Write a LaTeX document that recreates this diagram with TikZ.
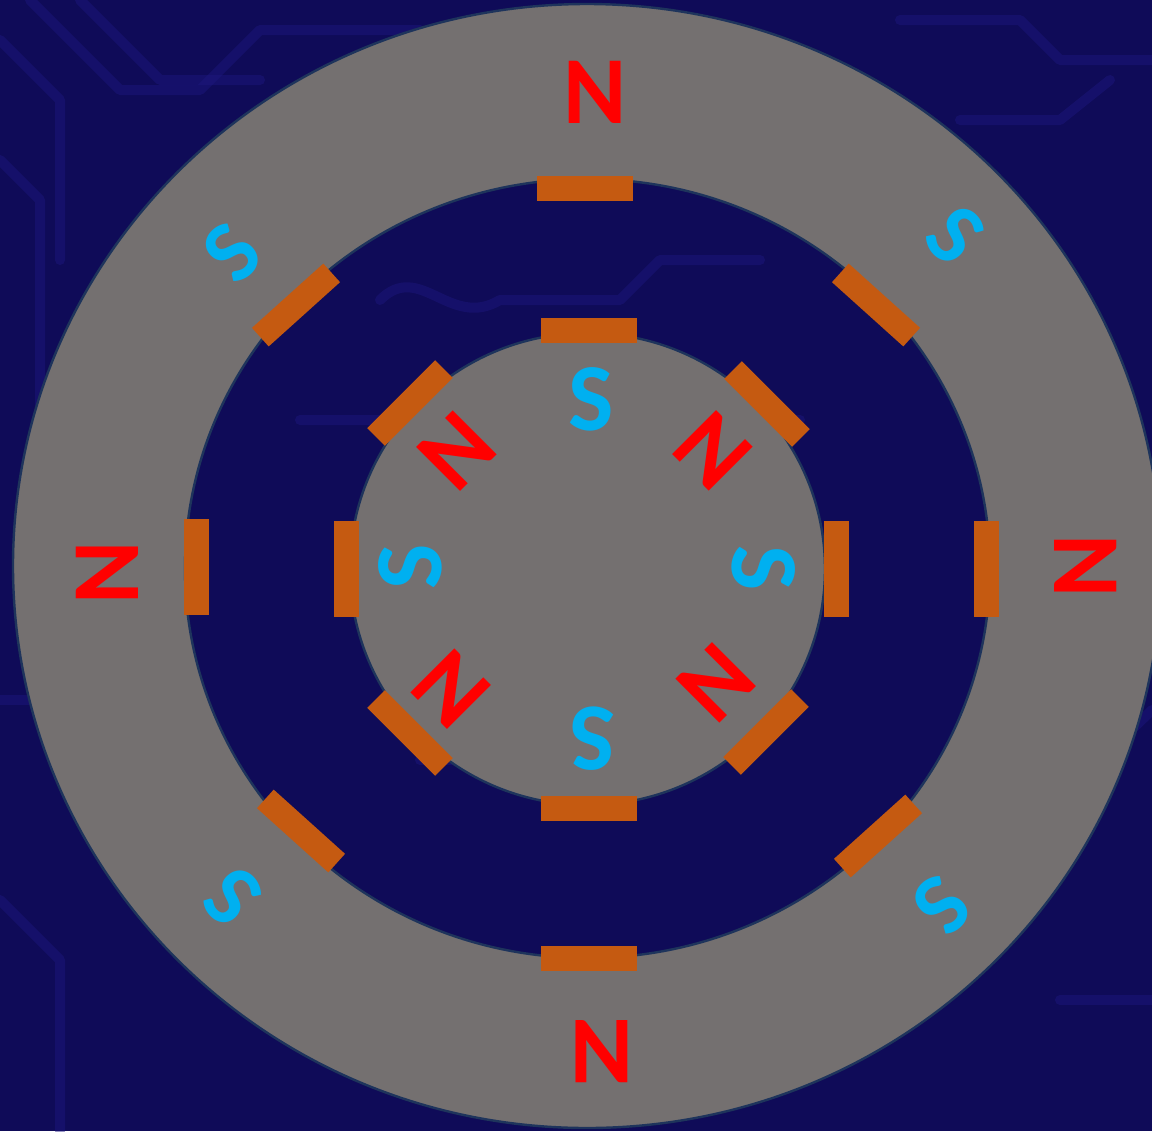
\documentclass[tikz,border=0pt]{standalone}
\usepackage{fontspec}
\setmainfont{Carlito}
\definecolor{bgblue}{RGB}{15,11,88}
\definecolor{trace}{RGB}{30,24,128}
\definecolor{ringgray}{RGB}{116,112,112}
\definecolor{edgeblue}{RGB}{30,52,92}
\definecolor{barorange}{RGB}{197,90,17}
\definecolor{nred}{RGB}{255,0,0}
\definecolor{scyan}{RGB}{0,176,240}
\tikzset{
  magbar/.style={rectangle, fill=barorange, minimum width=48pt, minimum height=12.5pt, inner sep=0pt},
  nlab/.style={text=nred, font=\fontsize{48}{48}\selectfont\bfseries, inner sep=0pt},
  slab/.style={text=scyan, font=\fontsize{48}{48}\selectfont\bfseries, inner sep=0pt},
  sslab/.style={text=scyan, font=\fontsize{44}{44}\selectfont\bfseries, inner sep=0pt},
  pcb/.style={draw=trace, line width=5pt, opacity=0.45, line join=round, line cap=round},
  rim/.style={draw=edgeblue, line width=1.2pt}
}
\begin{document}
\begin{tikzpicture}[x=0.5pt,y=-0.5pt]
\useasboundingbox (0,0) rectangle (1152,1131);
\begin{scope}
\clip (0,0) rectangle (1152,1131);
\fill[bgblue] (0,0) rectangle (1152,1131);
% faint circuit traces
\draw[pcb] (0,40) -- (60,100) -- (60,260);
\draw[pcb] (30,0) -- (120,90) -- (200,90) -- (260,30) -- (420,30);
\draw[pcb] (80,0) -- (160,80) -- (260,80);
\draw[pcb] (0,160) -- (40,200) -- (40,420);
\draw[pcb] (900,20) -- (1020,20) -- (1060,60) -- (1152,60);
\draw[pcb] (960,120) -- (1060,120) -- (1110,80);
\draw[pcb] (380,300) .. controls (420,260) and (450,330) .. (500,300) -- (620,300) -- (660,260) -- (760,260);
\draw[pcb] (300,420) -- (520,420) -- (560,380);
\draw[pcb] (650,420) -- (800,420);
\draw[pcb] (0,700) -- (120,700);
\draw[pcb] (1040,640) -- (1152,640);
\draw[pcb] (1000,760) -- (1100,760) -- (1152,710);
\draw[pcb] (0,900) -- (60,960) -- (60,1131);
\draw[pcb] (1060,1000) -- (1152,1000);
\draw[pcb] (660,640) -- (760,640);
\draw[pcb] (420,760) -- (520,760);
\draw[pcb] (460,520) -- (720,520);
\end{scope}
% outer stator ring
\path[fill=ringgray, even odd rule, rim]
  (587,566) ellipse [x radius=287pt, y radius=281pt]
  (587.5,568.5) ellipse [x radius=201.25pt, y radius=194.75pt];
% inner rotor disk
\path[fill=ringgray, rim] (587.5,569) ellipse [x radius=118.75pt, y radius=118pt];
% stator magnets
\node[magbar] (ot) at (585,188) {};
\node[magbar] (ob) at (589,958) {};
\node[magbar, rotate=90] (ol) at (196,567) {};
\node[magbar, rotate=90] (or) at (986,569) {};
\node[magbar, rotate=42] (otl) at (296,305) {};
\node[magbar, rotate=-42] (otr) at (876,305) {};
\node[magbar, rotate=-42] (obl) at (301,831) {};
\node[magbar, rotate=42] (obr) at (878,836) {};
% rotor magnets
\node[magbar] (it) at (589,330) {};
\node[magbar] (ib) at (589,808) {};
\node[magbar, rotate=90] (il) at (346,569) {};
\node[magbar, rotate=90] (ir) at (836,569) {};
\node[magbar, rotate=45] (itl) at (410,403) {};
\node[magbar, rotate=-45] (itr) at (767,404) {};
\node[magbar, rotate=-45] (ibl) at (410,733) {};
\node[magbar, rotate=45] (ibr) at (766,732) {};
% stator pole labels
\node[nlab] (lnt) at (595,92) {N};
\node[nlab, rotate=180] (lnb) at (602,1052) {N};
\node[nlab, rotate=90] (lnl) at (107,573) {N};
\node[nlab, rotate=-90] (lnr) at (1086,566) {N};
\node[sslab, rotate=45] (lstl) at (232,253) {S};
\node[sslab, rotate=-45] (lstr) at (955,235) {S};
\node[sslab, rotate=135] (lsbl) at (233,897) {S};
\node[sslab, rotate=-135] (lsbr) at (942,905) {S};
% rotor pole labels
\node[slab] (rst) at (591,399) {S};
\node[slab, rotate=180] (rsb) at (593,739) {S};
\node[slab, rotate=90] (rsl) at (410,567) {S};
\node[slab, rotate=-90] (rsr) at (764,568) {S};
\node[nlab, rotate=45] (rntl) at (457,451) {N};
\node[nlab, rotate=-45] (rntr) at (713,451) {N};
\node[nlab, rotate=135] (rnbl) at (451,689) {N};
\node[nlab, rotate=-135] (rnbr) at (716,683) {N};
\end{tikzpicture}
\end{document}
